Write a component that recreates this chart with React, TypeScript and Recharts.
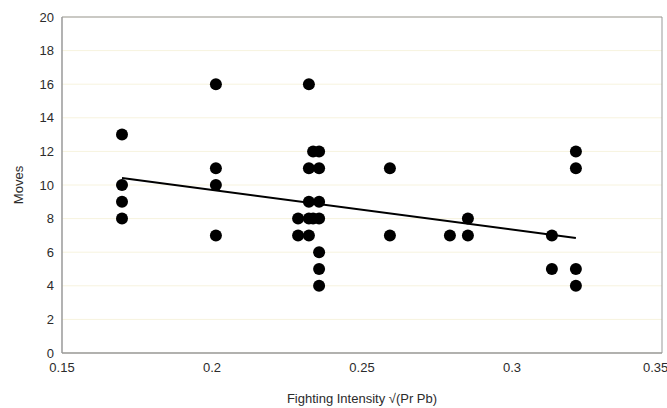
import React from 'react';
import { ComposedChart, Scatter, XAxis, YAxis, CartesianGrid, ReferenceArea } from 'recharts';

const intensity = [
  0.17, 0.17, 0.17, 0.17,
  0.2013, 0.2013, 0.2013, 0.2013,
  0.2287, 0.2287,
  0.2323, 0.2323, 0.2323, 0.2323, 0.2323,
  0.2337, 0.2337,
  0.2357, 0.2357, 0.2357, 0.2357, 0.2357, 0.2357, 0.2357,
  0.2593, 0.2593,
  0.2793,
  0.2853, 0.2853,
  0.3133, 0.3133,
  0.3213, 0.3213, 0.3213, 0.3213,
];
const moves = [
  13, 10, 9, 8,
  16, 11, 10, 7,
  8, 7,
  16, 11, 9, 8, 7,
  12, 8,
  12, 11, 9, 8, 6, 5, 4,
  11, 7,
  7,
  8, 7,
  7, 5,
  12, 11, 5, 4,
];
const trendX = [0.17, 0.3213];
const trendY = [10.42, 6.85];
const xTicks = [0.15, 0.2, 0.25, 0.3, 0.35];
const yTicks = [0, 2, 4, 6, 8, 10, 12, 14, 16, 18, 20];

const points = intensity.map((x, i) => ({ x, y: moves[i] }));
const trend = trendX.map((x, i) => ({ x, y: trendY[i] }));

const Dot = (props: any) => <circle cx={props.cx} cy={props.cy} r={6} fill="#000" />;
const NoDot = () => null;

const font = 'Liberation Sans, Arial, sans-serif';
const tickStyle = { fontFamily: font, fontSize: 13, fill: '#2b2b2b' };

export default function App() {
  return (
    <div style={{ position: 'absolute', left: 0, top: 0, background: '#fff' }}>
      <ComposedChart width={667} height={408} margin={{ top: 17, right: 5, left: 0, bottom: 0 }}>
        <CartesianGrid horizontal vertical={false} stroke="#f7f3de" />
        <XAxis
          type="number"
          dataKey="x"
          domain={[0.15, 0.35]}
          ticks={xTicks}
          tickFormatter={(v: number) => String(v)}
          tickLine={false}
          axisLine={{ stroke: '#999' }}
          tick={{ ...tickStyle, dy: 2 }}
          height={55}
          allowDataOverflow
          label={{ value: 'Fighting Intensity √(Pr Pb)', position: 'insideBottom', offset: 5, style: { fontFamily: font, fontSize: 13, fill: '#2b2b2b' } }}
        />
        <YAxis
          type="number"
          dataKey="y"
          domain={[0, 20]}
          ticks={yTicks}
          tickLine={false}
          axisLine={{ stroke: '#999' }}
          tick={tickStyle}
          width={62}
          label={{ value: 'Moves', angle: -90, position: 'insideLeft', offset: 18, style: { textAnchor: 'middle', fontFamily: font, fontSize: 13, fill: '#2b2b2b' } }}
        />
        <ReferenceArea x1={0.15} x2={0.35} y1={0} y2={20} fill="none" stroke="#999" strokeWidth={1} ifOverflow="extendDomain" />
        <Scatter data={points} shape={Dot} isAnimationActive={false} />
        <Scatter data={trend} shape={NoDot} line={{ stroke: '#000', strokeWidth: 2 }} isAnimationActive={false} />
      </ComposedChart>
    </div>
  );
}
